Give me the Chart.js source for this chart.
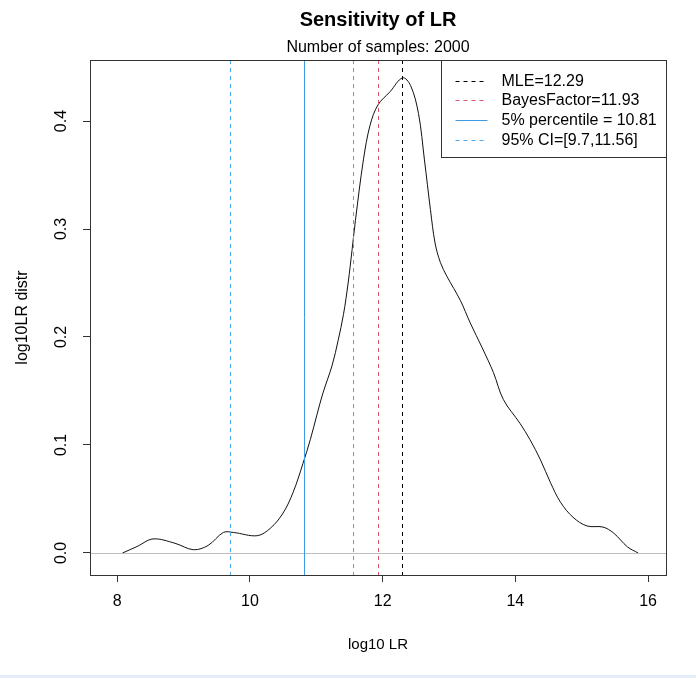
<!DOCTYPE html>
<html>
<head>
<meta charset="utf-8">
<script src="https://cdn.jsdelivr.net/npm/chart.js@4.4.1/dist/chart.umd.min.js"></script>
<style>
    html, body { margin: 0; padding: 0; background: #fff; }
    #strip { width: 696px; height: 3px; background: #e4edf8; }
</style>
</head>
<body>
<canvas id="lrChart" width="696" height="675"></canvas>
<div id="strip"></div>
<script>
// density of log10 LR
const densX = [8.08, 8.30, 8.54, 8.87, 9.15, 9.37, 9.60, 9.75, 10.11, 10.31, 10.50, 10.65, 10.80, 10.91, 11.01, 11.10, 11.24, 11.33, 11.41, 11.48, 11.54, 11.59, 11.71, 11.81, 11.93, 12.11, 12.30, 12.42, 12.54, 12.63, 12.72, 12.79, 12.87, 12.97, 13.17, 13.32, 13.50, 13.67, 13.82, 14.07, 14.22, 14.38, 14.53, 14.68, 14.87, 15.08, 15.32, 15.48, 15.69, 15.85];
const densY = [0.000, 0.006, 0.013, 0.009, 0.003, 0.007, 0.019, 0.019, 0.016, 0.023, 0.037, 0.056, 0.083, 0.105, 0.128, 0.148, 0.174, 0.197, 0.221, 0.250, 0.281, 0.308, 0.364, 0.396, 0.415, 0.427, 0.440, 0.433, 0.407, 0.364, 0.318, 0.287, 0.269, 0.256, 0.234, 0.213, 0.190, 0.167, 0.142, 0.120, 0.105, 0.086, 0.065, 0.047, 0.033, 0.025, 0.024, 0.0185, 0.0056, 0.000];

const xTicks = [8, 10, 12, 14, 16];
const yTicks = [0, 0.1, 0.2, 0.3, 0.4];

const mleValue = 12.29;
const bayesValue = 11.93;
const pct5Value = 10.81;
const ciValues = [9.7, 11.56];

const legendLabels = ['MLE=12.29', 'BayesFactor=11.93', '5% percentile = 10.81', '95% CI=[9.7,11.56]'];

const FONT = '"Liberation Sans", Arial, sans-serif';
Chart.defaults.font.family = FONT;
Chart.defaults.color = '#000';

// styles of the reference lines, same order as the legend
const lineStyles = [
    { color: '#000000', dash: [4, 4] },
    { color: '#DF536B', dash: [4, 4] },
    { color: '#3C9BE3', dash: [] },
    { color: '#4DA6E8', dash: [4, 4] }
];

function vline(ctx, a, px, style) {
    const xx = Math.round(px) + 0.5;
    ctx.strokeStyle = style.color;
    ctx.setLineDash(style.dash);
    ctx.beginPath();
    ctx.moveTo(xx, a.top);
    ctx.lineTo(xx, a.bottom);
    ctx.stroke();
}

const rDecor = {
    id: 'rDecor',
    beforeDraw(chart) {
        const ctx = chart.ctx;
        ctx.save();
        ctx.fillStyle = '#fff';
        ctx.fillRect(0, 0, chart.width, chart.height);
        ctx.restore();
    },
    afterDatasetsDraw(chart) {
        const { ctx, chartArea: a, scales: { x, y } } = chart;
        ctx.save();
        ctx.lineWidth = 1;

        // horizontal line at 0
        const y0 = Math.round(y.getPixelForValue(0)) + 0.5;
        ctx.strokeStyle = '#bebebe';
        ctx.beginPath();
        ctx.moveTo(a.left, y0);
        ctx.lineTo(a.right, y0);
        ctx.stroke();

        // vertical lines
        vline(ctx, a, x.getPixelForValue(mleValue), lineStyles[0]);
        vline(ctx, a, x.getPixelForValue(bayesValue), lineStyles[1]);
        vline(ctx, a, x.getPixelForValue(pct5Value), lineStyles[2]);
        ciValues.forEach(v => vline(ctx, a, x.getPixelForValue(v), lineStyles[3]));
        ctx.setLineDash([]);

        // box around plot
        ctx.strokeStyle = '#333';
        ctx.strokeRect(Math.round(a.left) + 0.5, Math.round(a.top) + 0.5,
            Math.round(a.right - a.left), Math.round(a.bottom - a.top));

        // legend (top right, inside plot)
        const lw = 225, lh = 97;
        const lx = Math.round(a.right - lw) + 0.5, ly = Math.round(a.top) + 0.5;
        ctx.fillStyle = '#fff';
        ctx.fillRect(lx, ly, lw, lh);
        ctx.strokeStyle = '#333';
        ctx.strokeRect(lx, ly, lw, lh);
        ctx.font = '16px ' + FONT;
        ctx.textAlign = 'left';
        ctx.textBaseline = 'middle';
        legendLabels.forEach((txt, i) => {
            const ry = Math.round(ly + 20 + i * 19.8) + 0.5;
            ctx.strokeStyle = lineStyles[i].color;
            ctx.setLineDash(lineStyles[i].dash);
            ctx.beginPath();
            ctx.moveTo(lx + 14, ry);
            ctx.lineTo(lx + 46, ry);
            ctx.stroke();
            ctx.fillStyle = '#000';
            ctx.fillText(txt, lx + 60, ry);
        });
        ctx.restore();
    },
    afterDraw(chart) {
        const { ctx, chartArea: a, scales: { y } } = chart;
        const cx = (a.left + a.right) / 2;
        ctx.save();
        ctx.fillStyle = '#000';
        ctx.textAlign = 'center';
        ctx.textBaseline = 'middle';

        ctx.font = 'bold 20px ' + FONT;
        ctx.fillText('Sensitivity of LR', cx, 20);
        ctx.font = '16px ' + FONT;
        ctx.fillText('Number of samples: 2000', cx, 48);

        // y tick labels, rotated like R
        yTicks.forEach(v => {
            ctx.save();
            ctx.translate(62, y.getPixelForValue(v));
            ctx.rotate(-Math.PI / 2);
            ctx.fillText(v.toFixed(1), 0, 0);
            ctx.restore();
        });

        ctx.translate(23, (a.top + a.bottom) / 2);
        ctx.rotate(-Math.PI / 2);
        ctx.fillText('log10LR distr', 0, 0);
        ctx.restore();
    }
};

new Chart(document.getElementById('lrChart'), {
    type: 'line',
    data: {
        datasets: [{
            label: 'density',
            data: densX.map((v, i) => ({ x: v, y: densY[i] })),
            borderColor: '#111',
            borderWidth: 1,
            pointRadius: 0,
            tension: 0.35,
            fill: false
        }]
    },
    options: {
        responsive: false,
        animation: false,
        layout: { padding: { top: 60, right: 30, left: 0, bottom: 0 } },
        plugins: {
            legend: { display: false },
            title: { display: false },
            tooltip: { enabled: false }
        },
        scales: {
            x: {
                type: 'linear',
                min: 7.59,
                max: 16.27,
                afterBuildTicks: s => { s.ticks = xTicks.map(v => ({ value: v })); },
                afterFit: s => { s.height = 100; },
                grid: { drawOnChartArea: false, tickLength: 7, color: '#333' },
                border: { display: false },
                ticks: { font: { size: 16 }, color: '#000', padding: 10 },
                title: { display: true, text: 'log10 LR', font: { size: 15 }, color: '#000', padding: { top: 0, bottom: 21 } }
            },
            y: {
                type: 'linear',
                min: -0.0204,
                max: 0.4565,
                afterBuildTicks: s => { s.ticks = yTicks.map(v => ({ value: v })); },
                afterFit: s => { s.width = 90; },
                grid: { drawOnChartArea: false, tickLength: 7, color: '#333' },
                border: { display: false },
                ticks: { display: false }
            }
        }
    },
    plugins: [rDecor]
});
</script>
</body>
</html>
